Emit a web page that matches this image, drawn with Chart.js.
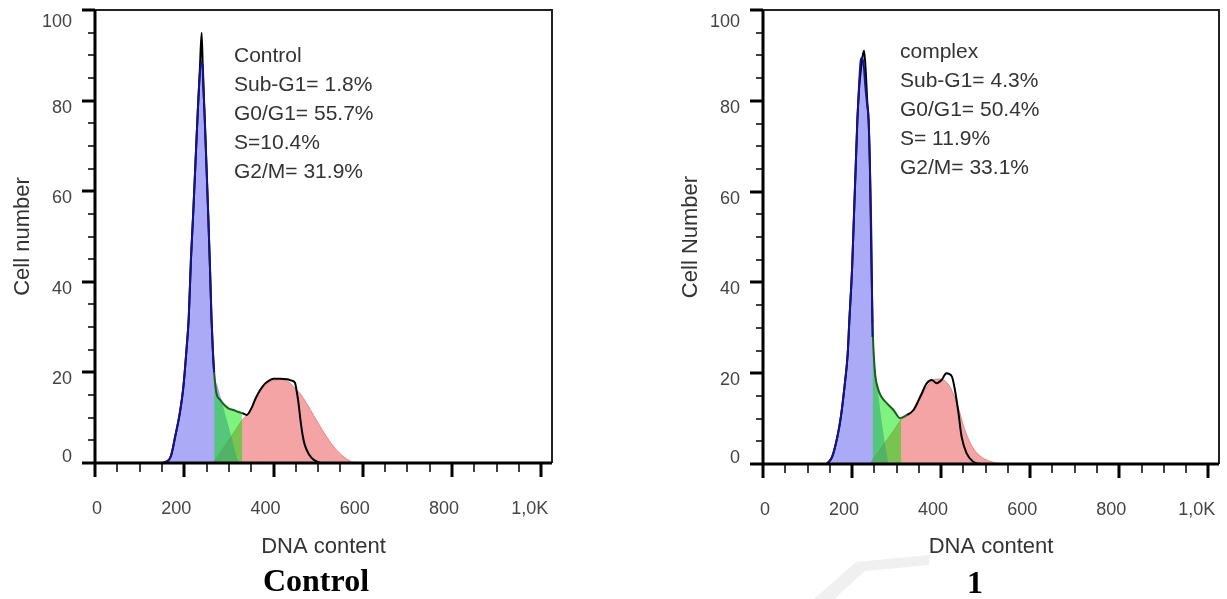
<!DOCTYPE html>
<html>
<head>
<meta charset="utf-8">
<script src="https://cdn.jsdelivr.net/npm/chart.js@4.4.1/dist/chart.umd.min.js"></script>
<style>
html, body { margin: 0; padding: 0; background: #fff; overflow: hidden; width: 1227px; height: 599px; }
canvas { position: absolute; top: 0; }
.note { position: absolute; font-family: "Liberation Sans", Arial, sans-serif; font-size: 21px; line-height: 29px; color: #333; white-space: nowrap; }
.cap { position: absolute; font-family: "Liberation Serif", "Times New Roman", serif; font-weight: bold; font-size: 32px; color: #000; white-space: nowrap; transform: translate(-50%, -50%); }
svg { position: absolute; left: 0; top: 0; }
</style>
</head>
<body>
<svg width="1227" height="599">
  <polygon points="814,599 834,599 866,570 856,562" fill="#f0f0f0"/>
  <polygon points="856,562 930,555 929,565 866,571" fill="#f0f0f0"/>
</svg>
<canvas id="ctrlChart" width="600" height="599" style="left:0"></canvas>
<canvas id="cpxChart" width="559" height="599" style="left:668px"></canvas>

<div class="note" style="left:234px; top:40px">Control<br>Sub-G1= 1.8%<br>G0/G1= 55.7%<br>S=10.4%<br>G2/M= 31.9%</div>
<div class="note" style="left:900px; top:36px">complex<br>Sub-G1= 4.3%<br>G0/G1= 50.4%<br>S= 11.9%<br>G2/M= 33.1%</div>
<div class="cap" style="left:316px; top:580px">Control</div>
<div class="cap" style="left:975px; top:582px">1</div>

<script>
/* axis ticks */
var xTickVals = [0, 200, 400, 600, 800, 1000];
var xTickLabels = ['0', '200', '400', '600', '800', '1,0K'];
var yTickVals = [0, 20, 40, 60, 80, 100];

/* Control: raw histogram (black line) */
var ctrlRawX = [0, 150, 160, 170, 180, 190, 198, 205, 210, 215, 220, 225, 230, 235, 239, 242, 246, 250, 254, 258, 261, 264, 267, 272, 280, 290, 300, 310, 320, 330, 340, 350, 360, 370, 380, 390, 400, 415, 430, 440, 448, 452, 456, 460, 465, 470, 480, 490, 500, 512, 1024];
var ctrlRawY = [0, 0, 0.3, 1.5, 6, 11, 16.8, 25, 32, 45, 55, 66, 77, 87, 95, 85, 76, 65, 54, 42, 32, 25, 20, 15.5, 14, 12.8, 12, 11.7, 11.3, 11, 10.6, 12, 14.3, 16.1, 17.4, 18.2, 18.6, 18.6, 18.5, 18.2, 17.7, 15.8, 13.2, 9.8, 6.3, 4, 1.8, 0.7, 0.2, 0, 0];
/* Control: G0/G1 fit (blue) */
var ctrlG1X = [150, 160, 170, 180, 190, 198, 205, 210, 215, 220, 225, 230, 235, 238, 241, 245, 250, 254, 258, 261, 264, 267, 275, 285, 295, 305, 315, 322];
var ctrlG1Y = [0, 0.3, 1.5, 6, 11, 16.8, 25, 32, 45, 55, 66, 77, 86, 88.5, 88, 78, 65, 54, 42, 32, 25, 20, 17, 13.3, 9.6, 6, 2.2, 0];
/* Control: S phase (green) */
var ctrlSX = [267, 272, 280, 290, 300, 310, 320, 330];
var ctrlSY = [20, 15.5, 14, 12.8, 12, 11.7, 11.3, 11];
/* Control: G2/M fit (red) */
var ctrlG2X = [265, 280, 300, 315, 330, 345, 360, 375, 390, 405, 420, 435, 448, 460, 474, 490, 505, 519, 540, 556, 575, 590];
var ctrlG2Y = [0, 2.2, 5.1, 7.3, 9.5, 11.2, 14, 16.4, 17.8, 18.3, 18.4, 17.8, 16.5, 15.3, 13.2, 10.5, 8, 5.8, 3, 1.5, 0.3, 0];

/* complex: raw histogram */
var cpxRawX = [0, 140, 146, 155, 167, 175, 183, 190, 194, 200, 204, 208, 212, 216, 220, 224, 227, 231, 234, 237, 240, 242, 246, 251, 257, 266, 278, 293, 308, 323, 338, 353, 368, 379, 390, 401, 412, 424, 431, 439, 446, 457, 472, 490, 1024];
var cpxRawY = [0, 0, 0.3, 1.5, 6, 10.5, 17, 24, 31.8, 43, 54, 65, 76, 83, 87, 90, 91, 86, 80, 76, 66, 54, 31, 20.7, 17, 14.8, 13.4, 11.9, 10.1, 10.8, 11.9, 14.8, 17.8, 18.5, 17.8, 18.5, 20, 19.3, 16.3, 11.2, 6, 2.4, 0.5, 0, 0];
/* complex: G0/G1 fit */
var cpxG1X = [143, 155, 167, 175, 183, 190, 194, 200, 204, 208, 212, 216, 219, 222, 226, 230, 234, 237, 240, 243, 246, 250, 255, 260, 265, 270, 275, 282];
var cpxG1Y = [0, 1.5, 6, 10.5, 17, 24, 31.8, 43, 54, 65, 76, 84, 88.5, 89.5, 88, 83, 79, 76, 66, 52, 28, 23, 18.5, 14.5, 10.5, 7, 3.8, 0];
/* complex: S phase */
var cpxSX = [246, 251, 257, 266, 278, 293, 308, 310];
var cpxSY = [29.5, 20.7, 17, 14.8, 13.4, 11.9, 10.1, 10.2];
/* complex: G2/M fit */
var cpxG2X = [240, 260, 280, 295, 310, 323, 338, 353, 368, 379, 390, 400, 410, 420, 430, 440, 450, 460, 472, 487, 502, 520, 545];
var cpxG2Y = [0, 2.8, 5.5, 7.6, 9.7, 10.5, 11.6, 14.3, 17, 18.3, 18.7, 18.7, 18.2, 17, 14.8, 12, 8.5, 5.8, 3.5, 1.8, 0.9, 0.3, 0];

var FONT = '"Liberation Sans", Arial, sans-serif';

function pts(xs, ys) {
  return xs.map(function (x, i) { return { x: x, y: ys[i] }; });
}

function noPad(s) {
  s.paddingTop = 0; s.paddingBottom = 0; s.paddingLeft = 0; s.paddingRight = 0;
}

// frame, major and minor ticks
var frameTicks = {
  id: 'frameTicks',
  afterDatasetsDraw: function (chart) {
    var ctx = chart.ctx, a = chart.chartArea;
    var xs = chart.scales.x, ys = chart.scales.y;
    ctx.save();
    ctx.strokeStyle = '#222';
    ctx.lineWidth = 2;
    ctx.beginPath();
    ctx.moveTo(a.left, a.top);
    ctx.lineTo(a.right, a.top);
    ctx.lineTo(a.right, a.bottom);
    ctx.stroke();
    ctx.strokeStyle = '#000';
    ctx.lineWidth = 3;
    ctx.beginPath();
    ctx.moveTo(a.left, a.top);
    ctx.lineTo(a.left, a.bottom);
    ctx.lineTo(a.right, a.bottom);
    ctx.stroke();
    for (var v = 0; v <= 100; v += 5) {
      var py = Math.round(ys.getPixelForValue(v));
      var major = v % 20 === 0;
      ctx.lineWidth = major ? 3 : 1.5;
      ctx.beginPath();
      ctx.moveTo(a.left - (major ? 13 : 7), py);
      ctx.lineTo(a.left, py);
      ctx.stroke();
    }
    for (var u = 0; u <= 1000; u += 50) {
      var px = Math.round(xs.getPixelForValue(u));
      var maj = u % 200 === 0;
      ctx.lineWidth = maj ? 3 : 1.5;
      ctx.beginPath();
      ctx.moveTo(px, a.bottom);
      ctx.lineTo(px, a.bottom + (maj ? 14 : 9));
      ctx.stroke();
    }
    ctx.restore();
  }
};

function makeChart(id, yTitle, padRight, xHeight, d) {
  var sLo = d.sX[0], sHi = d.sX[d.sX.length - 1];
  return new Chart(document.getElementById(id), {
    type: 'line',
    data: {
      datasets: [
        { // G1 outline
          data: pts(d.g1X, d.g1Y), fill: false, borderColor: '#14148a', borderWidth: 2,
          segment: { borderColor: function (c) { return c.p0.parsed.x >= sLo ? 'rgba(0,0,0,0)' : undefined; } },
          order: 0
        },
        { // raw data
          data: pts(d.rawX, d.rawY), fill: false, borderColor: '#000', borderWidth: 2, order: 1,
          segment: { borderColor: function (c) { var x = c.p0.parsed.x; return (x >= sLo && x < sHi) ? '#1c5e1c' : undefined; } }
        },
        { // S phase
          data: pts(d.sX, d.sY), fill: 'origin', backgroundColor: 'rgba(0,230,0,0.5)',
          borderColor: 'rgba(0,160,0,0.8)', borderWidth: 1, order: 2
        },
        { // G1 fill
          data: pts(d.g1X, d.g1Y), fill: 'origin', backgroundColor: 'rgba(100,100,240,0.55)',
          borderWidth: 0, borderColor: 'rgba(0,0,0,0)', order: 3
        },
        { // G2 fill
          data: pts(d.g2X, d.g2Y), fill: 'origin', backgroundColor: 'rgba(235,90,90,0.55)',
          borderColor: 'rgba(225,120,120,0.8)', borderWidth: 1, order: 4
        }
      ]
    },
    options: {
      responsive: false,
      animation: false,
      events: [],
      layout: { padding: { top: 10, right: padRight, left: 0, bottom: 0 } },
      elements: { point: { radius: 0 }, line: { cubicInterpolationMode: 'monotone' } },
      plugins: { legend: { display: false }, tooltip: { enabled: false } },
      scales: {
        x: {
          type: 'linear', min: 0, max: 1024,
          grid: { display: false, drawTicks: false },
          border: { display: false },
          afterBuildTicks: function (s) { s.ticks = xTickVals.map(function (v) { return { value: v }; }); },
          afterFit: function (s) { s.height = xHeight; noPad(s); },
          ticks: {
            align: 'end', labelOffset: 7, padding: 35, color: '#444', maxRotation: 0,
            font: { family: FONT, size: 18 },
            callback: function (v) { return xTickLabels[xTickVals.indexOf(v)]; }
          },
          title: {
            display: true, text: 'DNA content', color: '#333',
            font: { family: FONT, size: 22 },
            padding: { top: 0, bottom: 39 }
          }
        },
        y: {
          min: 0, max: 100,
          grid: { display: false, drawTicks: false },
          border: { display: false },
          afterBuildTicks: function (s) { s.ticks = yTickVals.map(function (v) { return { value: v }; }); },
          afterFit: function (s) { s.width = 95; noPad(s); },
          ticks: {
            labelOffset: 7, padding: 23, color: '#444',
            // end labels are nudged: 0 up off the x axis, 100 a bit lower
            font: function (c) {
              var v = c.tick ? c.tick.value : null;
              return { family: FONT, size: 18, lineHeight: v === 0 ? 1.45 : (v === 100 ? 0.56 : 1.2) };
            },
            callback: function (v) {
              if (v === 0) return ['0', ''];
              if (v === 100) return ['', '100'];
              return String(v);
            }
          },
          title: {
            display: true, text: yTitle, color: '#333',
            font: { family: FONT, size: 22 },
            padding: { top: 10, bottom: 0 }
          }
        }
      }
    },
    plugins: [frameTicks]
  });
}

var chart1 = makeChart('ctrlChart', 'Cell number', 48, 136, {
  rawX: ctrlRawX, rawY: ctrlRawY, g1X: ctrlG1X, g1Y: ctrlG1Y,
  sX: ctrlSX, sY: ctrlSY, g2X: ctrlG2X, g2Y: ctrlG2Y
});
var chart2 = makeChart('cpxChart', 'Cell Number', 8, 135, {
  rawX: cpxRawX, rawY: cpxRawY, g1X: cpxG1X, g1Y: cpxG1Y,
  sX: cpxSX, sY: cpxSY, g2X: cpxG2X, g2Y: cpxG2Y
});
</script>
</body>
</html>
